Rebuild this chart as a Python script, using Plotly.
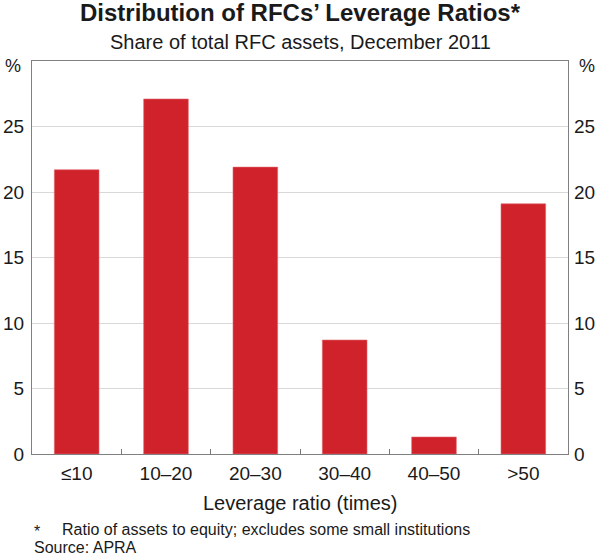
import plotly.graph_objects as go

categories = ["≤10", "10–20", "20–30", "30–40", "40–50", ">50"]
shares = [21.7, 27.1, 21.9, 8.7, 1.3, 19.1]
y_ticks = [0, 5, 10, 15, 20, 25]

FONT = "Liberation Sans, Arial, sans-serif"
RED = "#d0222b"
TXT = "#1a1a1a"
W, H = 600, 555
L, R, T, B = 32, 32, 61, 101
PH = H - T - B

fig = go.Figure()
fig.add_trace(go.Bar(x=categories, y=shares, marker=dict(color=RED, line=dict(color="#e06a70", width=0.6)),
                     width=0.5, showlegend=False, hoverinfo="skip"))
fig.add_trace(go.Scatter(x=categories, y=shares, yaxis="y2", mode="markers",
                         marker=dict(opacity=0), showlegend=False, hoverinfo="skip"))

fig.update_layout(
    width=W, height=H,
    margin=dict(l=L, r=R, t=T, b=B, pad=0),
    paper_bgcolor="white", plot_bgcolor="white",
    font=dict(family=FONT, size=19, color=TXT),
    title=dict(text="<b>Distribution of RFCs’ Leverage Ratios*</b>", x=0.5, xanchor="center",
               xref="paper", yref="container",
               y=1 - 13 / H, yanchor="middle", font=dict(size=24, color=TXT)),
    xaxis=dict(type="category", tickson="boundaries", ticks="inside", ticklen=5, tickcolor="#777",
               showline=True, linecolor="#808080", linewidth=1, mirror=True, automargin=False,
               showgrid=False, tickfont=dict(size=19), ticklabelstandoff=2),
    yaxis=dict(range=[0, 30], tickvals=y_ticks, showgrid=True, gridcolor="#d9d9d9", gridwidth=1,
               showline=True, linecolor="#808080", linewidth=1, mirror=True, zeroline=False,
               automargin=False, ticks="", ticklen=0, tickfont=dict(size=19), ticklabelstandoff=3),
    yaxis2=dict(range=[0, 30], tickvals=y_ticks, overlaying="y", side="right", showgrid=False,
                automargin=False, showline=False, zeroline=False, ticks="", ticklen=0,
                tickfont=dict(size=19), ticklabelstandoff=5),
)

def txt(text, x, xshift, ypx, size, xanchor):
    fig.add_annotation(text=text, xref="paper", yref="paper", x=x, xshift=xshift,
                       y=(H - B - ypx) / PH, showarrow=False, xanchor=xanchor, yanchor="middle",
                       font=dict(size=size, color=TXT))

txt("Share of total RFC assets, December 2011", 0.5, 0, 42.5, 20, "center")
txt("%", 0, -9, 66, 18, "right")
txt("%", 1, 9, 66, 18, "left")
txt("Leverage ratio (times)", 0.5, 0, 503, 20, "center")
txt("*", 0, 0, 531, 16, "left")
txt("Ratio of assets to equity; excludes some small institutions", 0, 28, 529, 16, "left")
txt("Source: APRA", 0, 0, 547, 16, "left")

fig.write_html("out.html", config={"displayModeBar": False},
               post_script="document.body.style.margin='0px';")
